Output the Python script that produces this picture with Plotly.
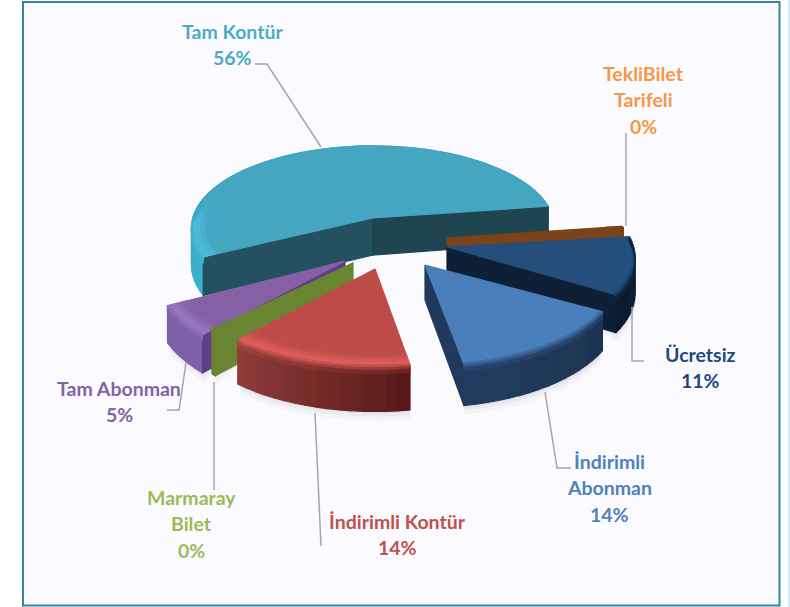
import math
import plotly.graph_objects as go

# ---- data ----
categories = ["TekliBilet Tarifeli", "Ücretsiz", "İndirimli Abonman", "İndirimli Kontür",
              "Marmaray Bilet", "Tam Abonman", "Tam Kontür"]
values = [0.4, 11, 14, 14, 0.4, 5.4, 55.6]
percent_labels = ["0%", "11%", "14%", "14%", "0%", "5%", "56%"]
label_lines = [["TekliBilet", "Tarifeli"], ["Ücretsiz"], ["İndirimli", "Abonman"], ["İndirimli Kontür"],
               ["Marmaray", "Bilet"], ["Tam Abonman"], ["Tam Kontür"]]

# ---- style / layout ----
W, H = 790, 607
START_ANGLE = 8.5
RX, RY, PERSP = 183, 82, 0.12
text_colors = ["#F79646", "#1F497D", "#4F81BD", "#C0504D", "#9BBB59", "#8064A2", "#4BACC6"]
label_pos = [(643, 73), (700, 354), (609, 461), (397, 521), (191, 497), (119, 388), (232, 31)]
LINE_STEP = 26.5
slice_style = {
    "Tam Kontür": dict(apex=(373, 218), scale=0.985, ys=1.0, rot=0, depth=37, top="#44A6C1", hi="#4FBAD8",
                       side=("#3DB0CF", "#2B8CA8"), cuts={"start": "#25505F", "end": "#1E4550"},
                       shadow=False, left_bevel=True),
    "TekliBilet Tarifeli": dict(apex=(447, 238), scale=0.985, ys=1.0, rot=0, depth=9, top="#7A431A", hi="#7A431A",
                                side=("#7A431A", "#7A431A"), cuts={"end": "#7A431A"}, shadow=False, left_bevel=False),
    "Ücretsiz": dict(apex=(447, 247), scale=1.02, ys=1.0, rot=0, depth=35, top="#254E7C", hi="#254E7C",
                     side=("#0E2238", "#0B1C30"), cuts={"end": "#0D2036"}, shadow=True, left_bevel=False),
    "İndirimli Abonman": dict(apex=(425, 265), scale=1.05, ys=1.03, rot=2.5, depth=35, top="#4A7EBB", hi="#4A7EBB",
                              side=("#1D3553", "#213C5E"), cuts={"end": "#1F3A5C"}, shadow=True, left_bevel=False),
    "İndirimli Kontür": dict(apex=(375, 269), scale=1.045, ys=1.0, rot=1.5, depth=38, top="#BE4B48", hi="#E0605C",
                             side=("#5A1A18", "#8F3C39"), cuts={}, shadow=True, left_bevel=False),
    "Marmaray Bilet": dict(apex=(353, 263), scale=1.02, ys=1.0, rot=0, depth=40, top="#6A8532", hi="#6A8532",
                           side=("#6A8532", "#6A8532"), cuts={"start": "#6A8532"}, shadow=True, left_bevel=False),
    "Tam Abonman": dict(apex=(345, 261), scale=1.03, ys=1.1, rot=0, depth=34, top="#8560A5", hi="#9A78C0",
                        side=("#7C5EA6", "#7C5EA6"), cuts={"start": "#5E3F85"}, shadow=True, left_bevel=False),
}
draw_order = ["Tam Kontür", "Tam Abonman", "TekliBilet Tarifeli", "Ücretsiz", "Marmaray Bilet",
              "İndirimli Abonman", "İndirimli Kontür"]
leaders = [
    [(255, 64), (267, 64), (321, 147)],
    [(626, 133), (626, 226)],
    [(632, 307), (632, 361), (644, 361)],
    [(545, 392), (557, 468), (571, 468)],
    [(315, 413), (321, 546)],
    [(214, 382), (214, 490)],
    [(186, 363), (179, 410), (167, 410)],
]


def hex2rgb(c):
    return tuple(int(c[i:i + 2], 16) for i in (1, 3, 5))


def mix(a, b, t):
    ra, rb = hex2rgb(a), hex2rgb(b)
    q = [min(255, int(round((ra[i] + (rb[i] - ra[i]) * t) / 4) * 4)) for i in range(3)]
    return "#%02X%02X%02X" % tuple(q)


def proj(st, ang, r=1.0, z=0.0):
    ang = ang + st["rot"]
    u, v = math.cos(math.radians(ang)), math.sin(math.radians(ang))
    w = st["scale"] / (1 + PERSP * v * r)
    return (st["apex"][0] + RX * u * r * w, st["apex"][1] - RY * st["ys"] * v * r * w + z * w)


fig = go.Figure()


def add_polys(polys, color, opacity=None):
    xs, ys = [], []
    for p in polys:
        xs += [q[0] for q in p] + [p[0][0], None]
        ys += [q[1] for q in p] + [p[0][1], None]
    fig.add_trace(go.Scatter(x=xs, y=ys, mode="lines", fill="toself", fillcolor=color,
                             line=dict(color=color, width=1.2 if opacity is None else 0),
                             hoverinfo="skip", showlegend=False, opacity=opacity))


# angular extent of each slice, clockwise from the start angle
total = sum(values)
spans = {}
a = START_ANGLE
for name, val in zip(categories, values):
    b = a - val / total * 360
    spans[name] = (a, b)
    a = b

# soft shadows
for name in draw_order:
    st = slice_style[name]
    if not st["shadow"]:
        continue
    a0, a1 = spans[name]
    n = 30
    arc = [proj(st, a0 + (a1 - a0) * i / n, 1.0, st["depth"]) for i in range(n + 1)]
    for grow, op in ((9, 0.05), (5, 0.06), (2, 0.07)):
        add_polys([[(x + 1, y + grow) for x, y in arc] + [st["apex"]]], "#60607A", opacity=op)

# slices
for name in draw_order:
    st = slice_style[name]
    a0, a1 = spans[name]
    d = st["depth"]
    n = max(2, int(abs(a1 - a0) / 3))
    angs = [a0 + (a1 - a0) * i / n for i in range(n + 1)]

    # outer wall
    groups = {}
    for i in range(n):
        t = i / max(1, n - 1)
        c = mix(st["side"][0], st["side"][1], t)
        q = [proj(st, angs[i], 1, 0), proj(st, angs[i + 1], 1, 0), proj(st, angs[i + 1], 1, d), proj(st, angs[i], 1, d)]
        groups.setdefault(c, []).append(q)
    for c, polys in groups.items():
        add_polys(polys, c)

    # cut faces
    for key, col in st["cuts"].items():
        ang = a0 if key == "start" else a1
        add_polys([[st["apex"], proj(st, ang), proj(st, ang, 1, d), (st["apex"][0], st["apex"][1] + d)]], col)

    # top face
    add_polys([[st["apex"]] + [proj(st, x) for x in angs]], st["top"])

    # rounded bevel on the front-facing rim
    profile = [(0.90, 0.0, 0.0), (0.93, 0.0, 0.35), (0.955, 0.0, 0.8), (0.975, 0.0, 1.0),
               (0.99, 0.0, 0.9), (1.0, 0.03, 0.6), (1.0, 0.09, 0.3), (1.0, 0.16, 0.0)]
    groups = {}
    for j in range(len(profile) - 1):
        r0, z0, k0 = profile[j]
        r1, z1, k1 = profile[j + 1]
        k = (k0 + k1) / 2
        for i in range(n):
            mid = (angs[i] + angs[i + 1]) / 2
            s = math.sin(math.radians(mid))
            front = max(0.0, min(1.0, (0.25 - s) / 0.3))
            if st["left_bevel"] and math.cos(math.radians(mid)) > 0:
                front = 0
            if front <= 0:
                continue
            t = i / max(1, n - 1)
            side = mix(st["side"][0], st["side"][1], t)
            base = st["top"] if z1 == 0 else side
            c = mix(base, st["hi"], k * front)
            q = [proj(st, angs[i], r0, z0 * d), proj(st, angs[i + 1], r0, z0 * d),
                 proj(st, angs[i + 1], r1, z1 * d), proj(st, angs[i], r1, z1 * d)]
            groups.setdefault((j, c), []).append(q)
    for (j, c), polys in groups.items():
        add_polys(polys, c)

# leader lines
for pts in leaders:
    fig.add_trace(go.Scatter(x=[p[0] for p in pts], y=[p[1] for p in pts], mode="lines",
                             line=dict(color="#A6A6A6", width=1.5), hoverinfo="skip", showlegend=False))

# labels
annotations = []
for lines, pct, col, (x, y) in zip(label_lines, percent_labels, text_colors, label_pos):
    for i, txt in enumerate(lines + [pct]):
        annotations.append(dict(x=x, y=y + i * LINE_STEP, xref="x", yref="y", text=txt, showarrow=False,
                                font=dict(family="Lato", size=19.5, color=col, weight="bold"),
                                xanchor="center", yanchor="middle"))

fig.update_layout(
    width=W, height=H, margin=dict(l=0, r=0, t=0, b=0), autosize=False,
    paper_bgcolor="#FFFFFF", plot_bgcolor="#FFFFFF",
    xaxis=dict(range=[0, W], visible=False, fixedrange=True),
    yaxis=dict(range=[H, 0], visible=False, fixedrange=True),
    annotations=annotations,
    shapes=[
        dict(type="rect", xref="x", yref="y", x0=23, y0=2, x1=779.5, y1=605.5, layer="below",
             fillcolor="#FBFBFF", line=dict(color="#31859C", width=2)),
        dict(type="rect", xref="x", yref="y", x0=788, y0=0, x1=790, y1=607, layer="below",
             fillcolor="#C8F0F5", line=dict(width=0)),
    ],
)
fig.write_html("out.html", config=dict(displayModeBar=False),
               post_script="document.body.style.margin='0';document.documentElement.style.overflow='hidden';")
